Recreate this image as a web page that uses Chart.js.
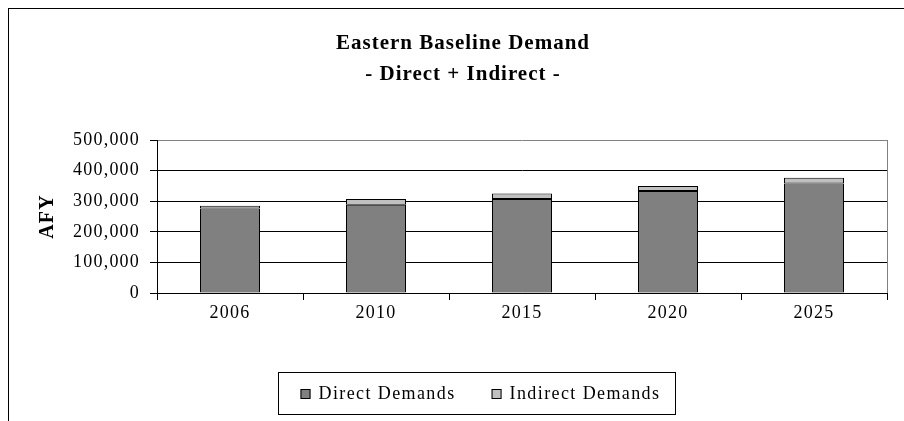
<!DOCTYPE html>
<html>
<head>
<meta charset="utf-8">
<script src="https://cdn.jsdelivr.net/npm/chart.js@4"></script>
<style>
  html, body { margin: 0; padding: 0; background: #fff; }
  #wrap { width: 904px; height: 421px; }
</style>
</head>
<body>
<div id="wrap"><canvas id="demandChart" width="904" height="421"></canvas></div>
<script>
// ── Data ──
const years = ['2006', '2010', '2015', '2020', '2025'];
const directDemands = [276000, 288000, 307000, 333000, 358000];
const indirectDemands = [9000, 19000, 18000, 17000, 19000];
const titleLines = ['Eastern Baseline Demand', '- Direct + Indirect -'];
const yAxisTitle = 'AFY';

const SERIF = "'Liberation Serif', 'Times New Roman', serif";

// ── Looser letter spacing for all canvas text ──
const spacing = {
  id: 'spacing',
  beforeUpdate(chart) { chart.ctx.letterSpacing = '1.2px'; },
  beforeDraw(chart) { chart.ctx.letterSpacing = '1.2px'; }
};

// ── Frame, title and boxed legend ──
const decorations = {
  id: 'decorations',
  beforeDatasetsDraw(chart) {
    const { ctx, chartArea } = chart;
    // grey right edge of the plot area
    ctx.save();
    ctx.strokeStyle = '#808080';
    ctx.lineWidth = 1;
    ctx.beginPath();
    ctx.moveTo(Math.round(chartArea.right) + 0.5, chartArea.top);
    ctx.lineTo(Math.round(chartArea.right) + 0.5, chartArea.bottom);
    ctx.stroke();
    ctx.restore();
  },
  afterDraw(chart) {
    const { ctx } = chart;
    ctx.save();

    // outer frame
    ctx.strokeStyle = '#000';
    ctx.lineWidth = 1;
    ctx.strokeRect(8.5, 8.5, 2000, 2000);

    // title
    ctx.fillStyle = '#000';
    ctx.textAlign = 'center';
    ctx.textBaseline = 'middle';
    ctx.letterSpacing = '1px';
    ctx.font = 'bold 21px ' + SERIF;
    titleLines.forEach((line, i) => ctx.fillText(line, 463, 44 + i * 31));

    // legend
    ctx.letterSpacing = '1.4px';
    ctx.font = '18px ' + SERIF;
    const boxL = 278.5, boxT = 372.5, boxH = 42;
    const marker = 10, textGap = 8, itemGap = 36, padL = 22, padR = 15;
    const cy = boxT + boxH / 2;
    let x = boxL + padL;
    ctx.textAlign = 'left';
    chart.data.datasets.forEach((ds, i) => {
      ctx.fillStyle = ds.backgroundColor;
      ctx.fillRect(x, Math.round(cy - marker / 2), marker, marker);
      ctx.strokeStyle = '#000';
      ctx.strokeRect(x + 0.5, Math.round(cy - marker / 2) + 0.5, marker - 1, marker - 1);
      ctx.fillStyle = '#000';
      ctx.fillText(ds.label, x + marker + textGap, cy + 1);
      x += marker + textGap + ctx.measureText(ds.label).width;
      if (i < chart.data.datasets.length - 1) x += itemGap;
    });
    ctx.strokeStyle = '#000';
    ctx.strokeRect(boxL, boxT, Math.round(x + padR - boxL), boxH);

    ctx.restore();
  }
};

// ── Chart ──
Chart.defaults.font.family = SERIF;
Chart.defaults.color = '#000';

const barStyle = {
  borderColor: '#000',
  borderWidth: 1,
  borderSkipped: false,
  inflateAmount: 0,
  barThickness: 60
};

new Chart(document.getElementById('demandChart'), {
  type: 'bar',
  data: {
    labels: years,
    datasets: [
      { label: 'Direct Demands', data: directDemands, backgroundColor: '#808080', ...barStyle },
      { label: 'Indirect Demands', data: indirectDemands, backgroundColor: '#c0c0c0', ...barStyle }
    ]
  },
  options: {
    responsive: false,
    animation: false,
    layout: { padding: { left: 0, right: 17, top: 140, bottom: 88 } },
    plugins: {
      legend: { display: false },
      title: { display: false },
      tooltip: { enabled: false }
    },
    scales: {
      x: {
        stacked: true,
        grid: {
          offset: true,
          drawOnChartArea: false,
          drawTicks: true,
          tickLength: 7,
          color: '#000'
        },
        border: { color: '#000' },
        ticks: { font: { size: 18 }, padding: 2, color: '#000' },
        afterFit(scale) { scale.height = 40; }
      },
      y: {
        stacked: true,
        min: 0,
        max: 500000,
        grid: {
          color: ctx => (ctx.tick && ctx.tick.value === 500000 ? '#808080' : '#000'),
          tickColor: '#000',
          tickLength: 7
        },
        border: { color: '#000' },
        ticks: {
          stepSize: 100000,
          padding: 10,
          font: { size: 18 },
          color: '#000',
          callback: v => v.toLocaleString('en-US')
        },
        title: {
          display: true,
          text: yAxisTitle,
          font: { size: 20, weight: 'bold' },
          color: '#000',
          padding: { top: 36, bottom: 0 }
        },
        afterFit(scale) { scale.width = 157; }
      }
    }
  },
  plugins: [spacing, decorations]
});
</script>
</body>
</html>
